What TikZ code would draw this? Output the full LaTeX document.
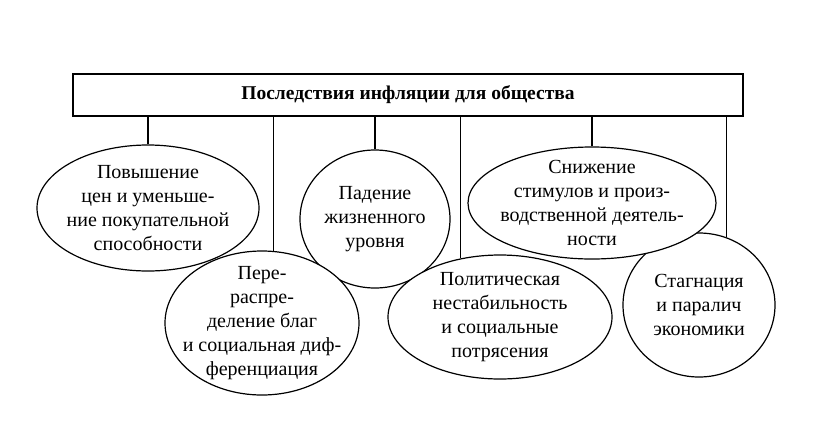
\documentclass[tikz,border=0pt]{standalone}
\usepackage{fontspec}
\setmainfont{Liberation Serif}
\usetikzlibrary{shapes.geometric}
\begin{document}
\begin{tikzpicture}[x=1pt,y=-1pt,
  conn/.style={line width=1.2pt},
  ell/.style={ellipse, draw, line width=1.2pt, fill=white, inner sep=0pt},
  txt/.style={align=center, font=\fontsize{20}{24}\selectfont, inner sep=0pt},
  titlebox/.style={draw, line width=1.2pt, inner sep=0pt, font=\fontsize{19.5}{23}\selectfont\bfseries}
]
\useasboundingbox (0,0) rectangle (816,421);
\node[titlebox, minimum width=670pt, minimum height=42pt] (top) at (408,95) {Последствия инфляции для общества};

\node[ell, minimum width=222pt, minimum height=126pt, label={[txt]center:{Повышение\\цен и уменьше-\\ние покупательной\\способности}}] (e1) at (148,208) {};
\node[ell, minimum width=150pt, minimum height=138pt, label={[txt]center:{Падение\\жизненного\\уровня}}] (e3) at (375,219) {};
\node[ell, minimum width=152pt, minimum height=144pt, label={[txt]center:{Стагнация\\и паралич\\экономики}}] (e6) at (699,305) {};
\node[ell, minimum width=248pt, minimum height=112pt, label={[txt]center:{Снижение\\стимулов и произ-\\водственной деятель-\\ности}}] (e4) at (592,203) {};
\node[ell, minimum width=194pt, minimum height=144pt, label={[txt]center:{Пере-\\распре-\\деление благ\\и социальная диф-\\ференциация}}] (e2) at (262,323) {};
\node[ell, minimum width=224pt, minimum height=124pt, label={[txt]center:{Политическая\\нестабильность\\и социальные\\потрясения}}] (e5) at (500,317) {};

\draw[conn] (e1.north) -- (e1.north |- top.south);
\draw[conn] (e2.81) -- (e2.81 |- top.south);
\draw[conn] (e3.north) -- (e3.north |- top.south);
\draw[conn] (e5.124) -- (e5.124 |- top.south);
\draw[conn] (e4.north) -- (e4.north |- top.south);
\draw[conn] (e6.68) -- (e6.68 |- top.south);
\end{tikzpicture}
\end{document}
